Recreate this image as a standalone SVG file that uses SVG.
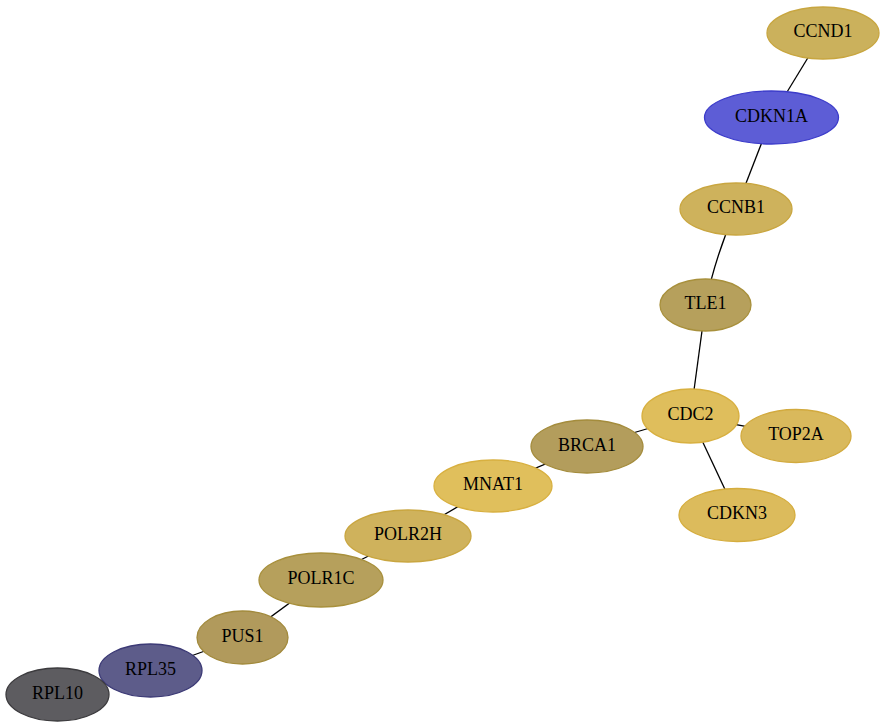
<svg xmlns="http://www.w3.org/2000/svg" width="885" height="728" viewBox="0 0 885 728">
<style>
.e{stroke:#000;stroke-width:1.3;fill:none}
text{font-family:"Liberation Serif","Times New Roman",serif;font-size:18px;text-anchor:middle;dominant-baseline:central;fill:#000}
.y ellipse{stroke-width:1.3}
</style>
<rect width="885" height="728" fill="#fff"/>
<g id="edges">
<line class="e" x1="823" y1="33" x2="771.5" y2="117.5"/>
<line class="e" x1="771.5" y1="117.5" x2="736" y2="209"/>
<path class="e" d="M736 209 Q714 260 705.5 305"/>
<line class="e" x1="705.5" y1="305" x2="690.5" y2="416"/>
<line class="e" x1="690.5" y1="416" x2="796" y2="436"/>
<line class="e" x1="690.5" y1="416" x2="737" y2="515"/>
<line class="e" x1="690.5" y1="416" x2="587" y2="446.5"/>
<line class="e" x1="587" y1="446.5" x2="493" y2="486"/>
<line class="e" x1="493" y1="486" x2="408" y2="536"/>
<line class="e" x1="408" y1="536" x2="321" y2="580"/>
<line class="e" x1="321" y1="580" x2="242.5" y2="637.5"/>
<line class="e" x1="242.5" y1="637.5" x2="150.5" y2="670.5"/>
<line class="e" x1="150.5" y1="670.5" x2="57.5" y2="694.5"/>
</g>
<g id="CCND1" class="y"><ellipse cx="823" cy="33" rx="56" ry="26" fill="#cbb15c" stroke="#c8a640"/><text x="823" y="31">CCND1</text></g>
<g id="CDKN1A" class="y"><ellipse cx="771.5" cy="117.5" rx="67" ry="26.5" fill="#5d5dd6" stroke="#3c3cca"/><text x="771.5" y="115.5">CDKN1A</text></g>
<g id="CCNB1" class="y"><ellipse cx="736" cy="209" rx="56" ry="26" fill="#ceb25c" stroke="#c9a640"/><text x="736" y="207">CCNB1</text></g>
<g id="TLE1" class="y"><ellipse cx="705.5" cy="305" rx="45.5" ry="26" fill="#b6a05c" stroke="#a8903c"/><text x="705.5" y="303">TLE1</text></g>
<g id="CDC2" class="y"><ellipse cx="690.5" cy="416" rx="48.5" ry="27" fill="#dfbe5c" stroke="#d8b040"/><text x="690.5" y="414">CDC2</text></g>
<g id="TOP2A" class="y"><ellipse cx="796" cy="436" rx="55" ry="26.5" fill="#d9b95c" stroke="#d2aa3e"/><text x="796" y="434">TOP2A</text></g>
<g id="CDKN3" class="y"><ellipse cx="737" cy="515" rx="58" ry="26.5" fill="#dcbb5c" stroke="#d5ad3e"/><text x="737" y="513">CDKN3</text></g>
<g id="BRCA1" class="y"><ellipse cx="587" cy="446.5" rx="56" ry="26.5" fill="#b39d5c" stroke="#a48c3c"/><text x="587" y="444.5">BRCA1</text></g>
<g id="MNAT1" class="y"><ellipse cx="493" cy="486" rx="59" ry="26" fill="#e0bf5c" stroke="#d8b040"/><text x="493" y="484">MNAT1</text></g>
<g id="POLR2H" class="y"><ellipse cx="408" cy="536" rx="63" ry="26" fill="#cfb25c" stroke="#c9a640"/><text x="408" y="534">POLR2H</text></g>
<g id="POLR1C" class="y"><ellipse cx="321" cy="580" rx="62" ry="27" fill="#b6a05c" stroke="#a8903c"/><text x="321" y="578">POLR1C</text></g>
<g id="PUS1" class="y"><ellipse cx="242.5" cy="637.5" rx="45.5" ry="26.5" fill="#b19a5c" stroke="#a28a3c"/><text x="242.5" y="635.5">PUS1</text></g>
<g id="RPL35" class="y"><ellipse cx="150.5" cy="670.5" rx="51.5" ry="26.5" fill="#5d5c8a" stroke="#3c3a76"/><text x="150.5" y="668.5">RPL35</text></g>
<g id="RPL10" class="y"><ellipse cx="57.5" cy="694.5" rx="51.5" ry="26.5" fill="#5d5c60" stroke="#3c3b3e"/><text x="57.5" y="692.5">RPL10</text></g>
</svg>
